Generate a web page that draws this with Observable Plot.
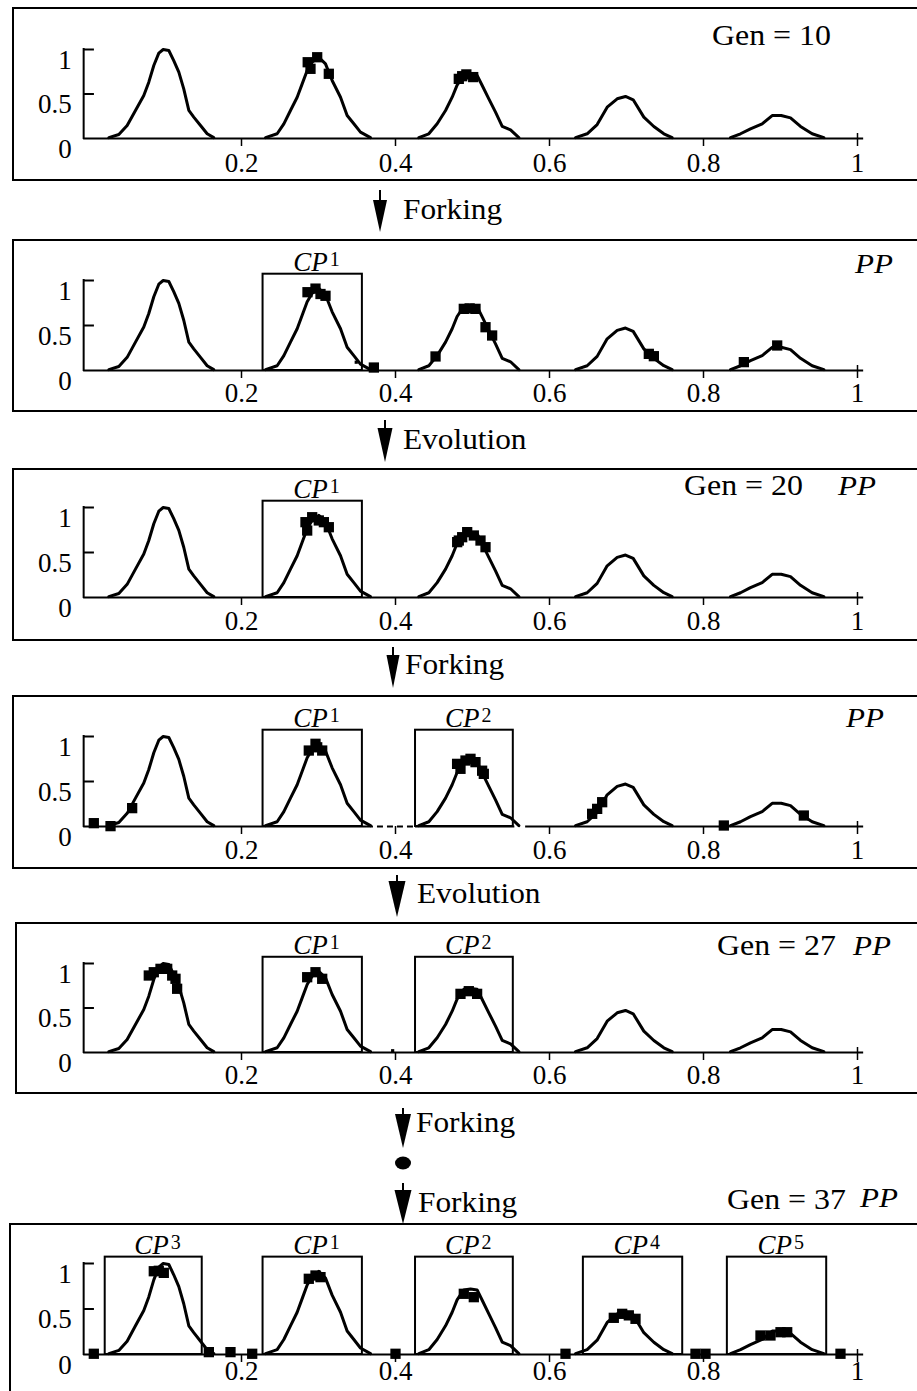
<!DOCTYPE html>
<html><head><meta charset="utf-8">
<script src="https://cdn.jsdelivr.net/npm/d3@7"></script>
<script src="https://cdn.jsdelivr.net/npm/@observablehq/plot@0.6"></script>
<style>
html,body{margin:0;padding:0;background:#fff;}
#page{position:relative;width:917px;height:1391px;overflow:hidden;background:#fff;font-family:"Liberation Serif","Times New Roman",serif;}
.panel{position:absolute;left:0;}
.frame{position:absolute;border:2px solid #000;box-sizing:border-box;pointer-events:none;}
#overlay{position:absolute;left:0;top:0;pointer-events:none;}
g[aria-label="x-tick-label"] text, g[aria-label="y-tick-label"] text{letter-spacing:0.5px;}
g[aria-label="cp-label"] text{letter-spacing:0.5px;}
</style></head><body><div id="page"></div>
<script>
// ---------- data ----------
const xTicks = [0.2, 0.4, 0.6, 0.8, 1];
const xTickLabels = ["0.2", "0.4", "0.6", "0.8", "1"];
const yTicks = [0, 0.5, 1];
const yTickLabels = ["0", "0.5", "1"];

// fitness landscape, one array per peak
const peak1 = [[0.0277,0.01],[0.0407,0.045],[0.0515,0.146],[0.0623,0.315],[0.0731,0.483],[0.0796,0.633],[0.0861,0.82],[0.0926,0.959],[0.0983,1.0],[0.1056,0.989],[0.112,0.876],[0.1186,0.745],[0.125,0.558],[0.1316,0.315],[0.138,0.24],[0.1468,0.146],[0.1554,0.053],[0.164,0.01]];
const peak2 = [[0.2312,0.01],[0.2463,0.053],[0.255,0.165],[0.2636,0.315],[0.2723,0.464],[0.2788,0.614],[0.2853,0.764],[0.2918,0.858],[0.3004,0.913],[0.3091,0.839],[0.3177,0.652],[0.3286,0.464],[0.3372,0.258],[0.3459,0.165],[0.3545,0.071],[0.3675,0.01]];
const peak3 = [[0.4303,0.01],[0.4433,0.053],[0.4541,0.165],[0.465,0.315],[0.4736,0.464],[0.48,0.6],[0.4887,0.71],[0.4974,0.72],[0.506,0.71],[0.5126,0.596],[0.5212,0.446],[0.5299,0.296],[0.5386,0.135],[0.5494,0.097],[0.5602,0.01]];
const peak4 = [[0.6338,0.01],[0.6489,0.053],[0.6619,0.157],[0.6749,0.352],[0.6879,0.446],[0.6987,0.472],[0.7087,0.435],[0.7225,0.24],[0.7355,0.135],[0.7485,0.053],[0.7593,0.01]];
const peak5 = [[0.8351,0.01],[0.8481,0.053],[0.861,0.109],[0.8762,0.165],[0.8892,0.258],[0.9009,0.258],[0.913,0.232],[0.926,0.135],[0.9411,0.053],[0.9563,0.01]];

// population members per stage
const gen10Pts = [[0.286,0.857],[0.2896,0.783],[0.2983,0.913],[0.3134,0.727],[0.4822,0.67],[0.4866,0.70],[0.492,0.72],[0.5009,0.69]];
const fork1Pts = [[0.2857,0.87],[0.2961,0.91],[0.3026,0.85],[0.3091,0.83],[0.3719,0.033],[0.452,0.156],[0.4887,0.685],[0.4963,0.69],[0.5039,0.685],[0.5169,0.481],[0.5255,0.389],[0.729,0.185],[0.7355,0.159],[0.8524,0.093],[0.8957,0.278]];
const fork1Small = [[0.349,0.092]];
const gen20Pts = [[0.2831,0.837],[0.2853,0.744],[0.2918,0.892],[0.3004,0.856],[0.307,0.837],[0.3134,0.781],[0.4801,0.615],[0.4822,0.633],[0.4866,0.67],[0.4931,0.726],[0.5017,0.689],[0.5104,0.633],[0.5169,0.559]];
const fork2Pts = [[0.0082,0.037],[0.0299,0.004],[0.058,0.204],[0.2874,0.844],[0.2961,0.919],[0.2983,0.88],[0.3048,0.844],[0.48,0.696],[0.4844,0.641],[0.4909,0.733],[0.4974,0.752],[0.5039,0.715],[0.5125,0.62],[0.5147,0.585],[0.6554,0.141],[0.6619,0.196],[0.6684,0.27],[0.8264,0.011],[0.9303,0.122]];
const fork2Small = [];
const gen27Pts = [[0.0796,0.865],[0.0861,0.902],[0.0948,0.94],[0.1035,0.94],[0.11,0.865],[0.1143,0.828],[0.1164,0.716],[0.2853,0.846],[0.2961,0.902],[0.3048,0.828],[0.4844,0.659],[0.4952,0.689],[0.506,0.659]];
const gen27Small = [[0.3963,0.02]];
const gen37Pts = [[0.0082,0.008],[0.0861,0.915],[0.0926,0.92],[0.0991,0.897],[0.1576,0.026],[0.1857,0.026],[0.2139,0.008],[0.2874,0.832],[0.2961,0.868],[0.3026,0.85],[0.4,0.008],[0.4887,0.667],[0.5017,0.63],[0.6208,0.008],[0.6835,0.403],[0.6944,0.447],[0.703,0.43],[0.7117,0.392],[0.7896,0.008],[0.8026,0.008],[0.874,0.209],[0.887,0.209],[0.9,0.245],[0.9087,0.245],[0.9779,0.008]];

// conserved-population boxes (CP^n)
const cpIds = [1, 2, 3, 4, 5];
const cpLeft = [0.228, 0.426, 0.023, 0.644, 0.831];
const cpRight = [0.357, 0.553, 0.149, 0.773, 0.960];
const cpTop = 1.07;

// stage texts
const stageGen = ["Gen = 10", null, "Gen = 20", null, "Gen = 27", "Gen = 37"];
const stagePP = [false, true, true, true, true, true];
const stepLabels = ["Forking", "Evolution", "Forking", "Evolution", "Forking", "Forking"];

// ---------- layout ----------
const curve = [peak1, peak2, peak3, peak4, peak5].flatMap((p, i) => p.map(([x, y]) => ({peak: i + 1, x, y})));
const boxes = cpIds.map((n, i) => ({n, x1: cpLeft[i], x2: cpRight[i]}));

const panels = [
  {top: 7, h: 174, y0: 138, y1: 49, labDy: 14, frame: [12, 7, 174], pts: gen10Pts, small: [], cps: [], axis: [[-0.005, 1.008]], dashed: []},
  {top: 239, h: 173, y0: 370, y1: 280, labDy: 12, frame: [12, 239, 173], pts: fork1Pts, small: fork1Small, cps: [1], axis: [[-0.005, 1.008]], dashed: []},
  {top: 468, h: 173, y0: 597, y1: 507, labDy: 13, frame: [12, 468, 173], pts: gen20Pts, small: [], cps: [1], axis: [[-0.005, 1.008]], dashed: []},
  {top: 695, h: 174, y0: 826, y1: 736, labDy: 13, frame: [12, 695, 174], pts: fork2Pts, small: fork2Small, cps: [1, 2], axis: [[-0.005, 0.3636], [0.426, 0.555], [0.569, 1.008]], dashed: [[0.3636, 0.426]]},
  {top: 922, h: 172, y0: 1052, y1: 963, labDy: 12, frame: [15, 922, 172], pts: gen27Pts, small: gen27Small, cps: [1, 2], axis: [[-0.005, 1.008]], dashed: []},
  {top: 1175, h: 216, y0: 1354, y1: 1263, labDy: 6, frame: [9, 1223, 220], pts: gen37Pts, small: [], cps: [3, 1, 2, 4, 5], axis: [[-0.005, 1.008]], dashed: []}
];

const page = document.getElementById("page");
const FONT = "Liberation Serif";

// widen glyphs horizontally (the original figure is stretched sideways)
function stretchTexts(root, selector, sx) {
  root.querySelectorAll(selector).forEach(t => {
    let tr = t.getAttribute("transform");
    if (!tr) {
      const x = t.getAttribute("x") || 0, y = t.getAttribute("y") || 0;
      t.removeAttribute("x"); t.removeAttribute("y");
      tr = `translate(${x},${y})`;
    }
    t.setAttribute("transform", `${tr} scale(${sx},1)`);
  });
}

panels.forEach((p, k) => {
  const ppu = p.y0 - p.y1;
  const myBoxes = p.cps.map(n => boxes.find(b => b.n === n));
  const chart = Plot.plot({
    width: 917,
    height: p.h,
    x: {domain: [0, 1], range: [87, 857], axis: null},
    y: {domain: [0, 1], range: [p.y0 - p.top, p.y1 - p.top], axis: null},
    style: {background: "transparent", overflow: "visible"},
    marks: [
      // x axis line
      Plot.ruleY(p.axis, {y: () => 0, x1: d => d[0], x2: d => d[1], strokeWidth: 2}),
      Plot.ruleY(p.dashed, {y: () => 0, x1: d => d[0], x2: d => d[1], strokeWidth: 2, strokeDasharray: "6,4"}),
      // x ticks
      Plot.ruleX(xTicks, {x: d => d, y1: 0, y2: -8 / ppu, strokeWidth: 1.5}),
      Plot.ruleX([1], {x: d => d, y1: 0, y2: 5 / ppu, strokeWidth: 1.5}),
      Plot.text(xTicks, {x: d => d, y: 0, text: (d, i) => xTickLabels[i], lineAnchor: "top", dy: p.labDy, fontSize: 27, fontFamily: FONT, ariaLabel: "x-tick-label", fill: "black"}),
      // y axis bracket
      Plot.ruleX([-0.005], {x: d => d, y1: 0, y2: 1, strokeWidth: 2, strokeLinecap: "square"}),
      Plot.ruleY([0.5, 1], {y: d => d, x1: -0.005, x2: 0.009, strokeWidth: 2}),
      Plot.text(yTicks, {x: () => -0.005, y: d => d, text: (d, i) => yTickLabels[i], textAnchor: "end", lineAnchor: "top", dx: -12, dy: 0, fontSize: 27, fontFamily: FONT, ariaLabel: "y-tick-label", fill: "black"}),
      // CP boxes
      Plot.rect(myBoxes, {x1: "x1", x2: "x2", y1: () => 0, y2: () => cpTop, fill: "none", stroke: "black", strokeWidth: 2}),
      Plot.text(myBoxes, {x: d => (d.x1 + d.x2) / 2, y: () => cpTop, text: () => "CP", textAnchor: "end", lineAnchor: "bottom", dx: 15, dy: -3, fontSize: 27, fontStyle: "italic", fontFamily: FONT, ariaLabel: "cp-label", fill: "black"}),
      Plot.text(myBoxes, {x: d => (d.x1 + d.x2) / 2, y: () => cpTop, text: d => String(d.n), textAnchor: "start", lineAnchor: "bottom", dx: 17, dy: -8, fontSize: 20, fontFamily: FONT, ariaLabel: "cp-sup", fill: "black"}),
      // landscape
      Plot.line(curve, {x: "x", y: "y", z: "peak", stroke: "black", strokeWidth: 3, strokeLinejoin: "round"}),
      // population
      Plot.dot(p.pts, {x: d => d[0], y: d => d[1], symbol: "square", r: 5.8, fill: "black"}),
      Plot.dot(p.small, {x: d => d[0], y: d => d[1], symbol: "square", r: 1.8, fill: "black"})
    ]
  });
  stretchTexts(chart, 'g[aria-label="x-tick-label"] text, g[aria-label="y-tick-label"] text', 1.13);
  stretchTexts(chart, 'g[aria-label="cp-label"] text, g[aria-label="cp-sup"] text', 1.12);
  chart.classList.add("panel");
  chart.style.position = "absolute";
  chart.style.left = "0px";
  chart.style.top = p.top + "px";
  page.appendChild(chart);
});

// frames
panels.forEach(p => {
  const [l, t, h] = p.frame;
  const f = document.createElement("div");
  f.className = "frame";
  f.style.left = l + "px";
  f.style.top = t + "px";
  f.style.width = (917 - l + 10) + "px";
  f.style.height = h + "px";
  page.appendChild(f);
});

// arrows and step labels
const arrows = [
  {x: 380, top: 190, tri: 200, tip: 232, w: 14, lx: 403, ly: 219},
  {x: 385, top: 420, tri: 428, tip: 462, w: 15, lx: 403, ly: 449},
  {x: 393, top: 647, tri: 655, tip: 688, w: 13, lx: 405, ly: 674},
  {x: 397, top: 875, tri: 881, tip: 917, w: 17, lx: 417, ly: 903},
  {x: 403, top: 1108, tri: 1114, tip: 1148, w: 16, lx: 416, ly: 1132},
  {x: 403, top: 1183, tri: 1190, tip: 1224, w: 17, lx: 418, ly: 1212}
];
const ov = d3.select(page).append("svg").attr("id", "overlay").attr("width", 917).attr("height", 1391);
function label(x, y, txt, size, sx, italic) {
  return ov.append("text").attr("transform", `translate(${x},${y}) scale(${sx},1)`)
    .attr("font-family", FONT).attr("font-size", size).attr("font-style", italic ? "italic" : "normal").text(txt);
}
arrows.forEach((a, i) => {
  ov.append("line").attr("x1", a.x).attr("x2", a.x).attr("y1", a.top).attr("y2", a.tri + 2).attr("stroke", "#000").attr("stroke-width", 2);
  ov.append("path").attr("d", `M${a.x - a.w / 2},${a.tri}L${a.x + a.w / 2},${a.tri}L${a.x},${a.tip}Z`).attr("fill", "#000");
  label(a.lx, a.ly, stepLabels[i], 29, 1.08, false);
});
ov.append("ellipse").attr("cx", 403).attr("cy", 1163).attr("rx", 8).attr("ry", 6.5).attr("fill", "#000");

// stage labels (Gen = .., PP)
const genPos = [[712, 45], null, [684, 495], null, [717, 955], [727, 1209]];
const ppPos = [null, [855, 273], [838, 495], [846, 727], [853, 955], [860, 1207]];
stageGen.forEach((g, i) => {
  if (g) label(genPos[i][0], genPos[i][1], g, 29, 1.1, false);
  if (stagePP[i]) label(ppPos[i][0], ppPos[i][1], "PP", 27, 1.15, true);
});
</script></body></html>
